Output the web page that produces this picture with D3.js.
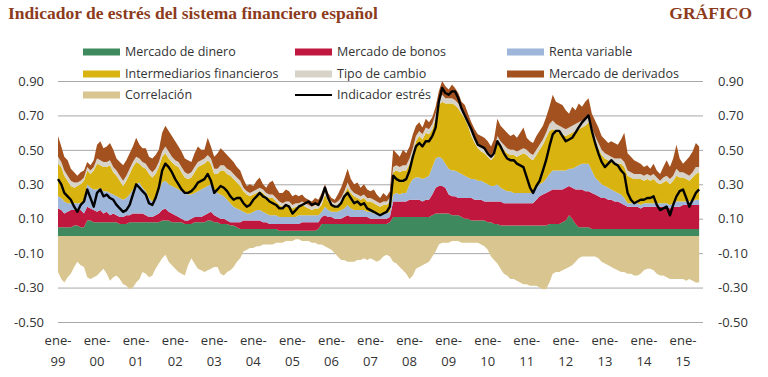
<!DOCTYPE html>
<html>
<head>
<meta charset="utf-8">
<script src="https://cdn.jsdelivr.net/npm/d3@7"></script>
<style>
  body { margin: 0; background: #fff; }
  svg text { font-family: "Open Sans", sans-serif; fill: #333; }
  svg text.title { font-family: "Liberation Serif", serif; font-weight: bold; fill: #8c3b1c; }
</style>
</head>
<body>
<svg id="chart"></svg>
<script>
// monthly values, ene-99 .. jun-15
const dinero = [
  .05,.05,.05,.05,.05,.06,.06,.05,.05,.09,.09,.08,
  .08,.08,.08,.08,.08,.08,.08,.07,.07,.07,.08,.08,
  .08,.08,.08,.08,.08,.08,.08,.08,.09,.09,.09,.08,
  .08,.08,.08,.07,.07,.07,.08,.08,.08,.08,.09,.09,
  .08,.08,.07,.07,.07,.06,.06,.05,.04,.04,.04,.04,
  .04,.04,.04,.04,.04,.04,.04,.04,.03,.03,.03,.03,
  .03,.03,.03,.03,.03,.03,.03,.03,.04,.07,.07,.07,
  .07,.07,.07,.07,.07,.07,.07,.07,.07,.07,.07,.07,
  .07,.07,.07,.07,.07,.07,.08,.11,.11,.11,.11,.11,
  .11,.11,.11,.11,.11,.11,.11,.12,.13,.13,.13,.13,
  .13,.12,.12,.12,.11,.10,.10,.09,.09,.09,.09,.09,
  .08,.08,.07,.07,.06,.06,.06,.06,.06,.06,.06,.06,
  .06,.06,.06,.06,.06,.06,.06,.07,.07,.07,.07,.08,
  .09,.12,.10,.07,.05,.05,.05,.05,.04,.04,.04,.04,
  .04,.04,.04,.04,.04,.04,.04,.04,.04,.04,.04,.04,
  .04,.04,.04,.04,.04,.04,.04,.04,.04,.04,.04,.04,
  .04,.04,.04,.04,.04,.04
];
const bonos = [
  .11,.10,.08,.09,.10,.09,.09,.10,.08,.08,.07,.07,
  .06,.07,.05,.06,.04,.05,.04,.04,.04,.05,.04,.05,
  .05,.05,.05,.04,.03,.03,.04,.05,.06,.07,.05,.05,
  .04,.03,.02,.02,.02,.03,.03,.03,.03,.04,.04,.05,
  .04,.03,.03,.03,.02,.02,.02,.03,.04,.05,.05,.05,
  .05,.05,.05,.04,.04,.03,.03,.03,.04,.04,.04,.04,
  .04,.04,.04,.05,.05,.05,.05,.05,.04,.04,.05,.04,
  .04,.03,.03,.03,.04,.05,.04,.04,.04,.04,.04,.04,
  .03,.03,.03,.03,.03,.03,.03,.09,.09,.09,.09,.09,
  .10,.10,.10,.10,.09,.10,.10,.12,.15,.16,.16,.15,
  .11,.11,.11,.10,.11,.12,.12,.13,.12,.12,.12,.11,
  .12,.12,.13,.13,.14,.13,.13,.13,.13,.13,.13,.13,
  .13,.13,.13,.15,.17,.18,.19,.19,.20,.20,.20,.19,
  .19,.17,.18,.20,.22,.22,.21,.21,.21,.20,.19,.18,
  .18,.17,.17,.16,.16,.15,.14,.13,.13,.13,.13,.12,
  .13,.13,.13,.13,.13,.13,.13,.13,.12,.13,.13,.13,
  .14,.14,.14,.14,.14,.14
];
const renta = [
  .07,.07,.07,.05,.04,.04,.04,.04,.07,.13,.12,.12,
  .13,.13,.13,.12,.13,.11,.11,.11,.10,.10,.12,.14,
  .17,.18,.15,.14,.11,.09,.10,.13,.16,.16,.16,.16,
  .16,.16,.16,.16,.15,.14,.14,.15,.16,.16,.16,.16,
  .15,.14,.14,.13,.12,.11,.09,.08,.07,.05,.04,.04,
  .05,.06,.06,.06,.05,.05,.05,.05,.04,.04,.04,.04,
  .04,.04,.05,.04,.04,.04,.04,.04,.04,.03,.05,.04,
  .03,.04,.04,.05,.05,.06,.05,.04,.04,.04,.04,.03,
  .04,.03,.03,.03,.03,.03,.03,.04,.05,.04,.05,.05,
  .09,.12,.13,.13,.13,.13,.14,.16,.17,.17,.16,.14,
  .15,.15,.15,.15,.14,.13,.12,.11,.12,.11,.11,.11,
  .10,.09,.09,.10,.08,.08,.07,.07,.06,.06,.06,.06,
  .06,.06,.06,.07,.07,.07,.08,.10,.11,.11,.11,.11,
  .10,.10,.11,.13,.14,.15,.16,.16,.13,.10,.09,.08,
  .07,.07,.06,.06,.05,.05,.04,.02,.02,.02,.02,.02,
  .02,.02,.02,.02,.02,.02,.02,.02,.02,.02,.03,.03,
  .02,.02,.02,.02,.03,.03
];
const intermediarios = [
  .19,.18,.15,.13,.10,.09,.10,.11,.12,.08,.08,.11,
  .15,.13,.14,.14,.16,.13,.12,.10,.08,.10,.12,.13,
  .13,.11,.12,.13,.14,.14,.14,.14,.15,.16,.15,.14,
  .13,.13,.11,.09,.09,.10,.12,.14,.14,.14,.15,.12,
  .09,.11,.14,.15,.15,.16,.16,.15,.14,.12,.11,.10,
  .10,.10,.11,.11,.10,.10,.10,.08,.07,.06,.07,.07,
  .05,.06,.05,.06,.05,.04,.03,.04,.04,.04,.07,.05,
  .04,.03,.04,.05,.08,.10,.09,.08,.07,.06,.07,.06,
  .06,.06,.05,.04,.05,.05,.06,.13,.13,.13,.13,.13,
  .12,.15,.21,.24,.23,.26,.24,.22,.23,.30,.33,.35,
  .38,.39,.38,.37,.35,.33,.30,.25,.21,.19,.17,.17,
  .16,.15,.17,.24,.24,.23,.22,.21,.22,.21,.22,.23,
  .22,.20,.19,.19,.20,.22,.24,.25,.24,.23,.22,.21,
  .20,.20,.21,.21,.21,.21,.22,.24,.22,.21,.19,.17,
  .16,.16,.16,.16,.17,.18,.18,.16,.15,.14,.14,.15,
  .13,.14,.13,.14,.12,.11,.12,.13,.12,.13,.15,.14,
  .14,.13,.12,.14,.15,.16
];
const cambio = [
  .04,.03,.03,.03,.03,.03,.02,.02,.02,.02,.02,.02,
  .03,.03,.03,.03,.03,.03,.03,.03,.03,.03,.03,.03,
  .03,.03,.03,.03,.03,.03,.03,.03,.03,.04,.04,.03,
  .03,.03,.03,.03,.03,.03,.03,.03,.03,.03,.03,.03,
  .03,.03,.03,.03,.03,.03,.03,.03,.03,.02,.02,.02,
  .02,.02,.02,.02,.02,.02,.02,.02,.02,.02,.02,.02,
  .02,.02,.02,.02,.02,.02,.02,.02,.02,.02,.02,.02,
  .02,.02,.02,.02,.02,.03,.02,.02,.02,.02,.02,.02,
  .02,.02,.02,.02,.02,.02,.02,.03,.03,.03,.03,.03,
  .03,.03,.03,.03,.03,.03,.03,.03,.03,.03,.04,.03,
  .03,.03,.03,.03,.03,.03,.03,.03,.03,.03,.03,.03,
  .03,.03,.03,.04,.03,.03,.03,.03,.03,.03,.03,.03,
  .03,.03,.03,.03,.03,.03,.03,.04,.05,.04,.04,.04,
  .04,.04,.04,.04,.04,.04,.04,.04,.03,.03,.03,.03,
  .03,.03,.03,.03,.03,.03,.03,.03,.03,.03,.03,.03,
  .03,.03,.03,.03,.03,.02,.03,.03,.03,.03,.04,.03,
  .03,.03,.03,.03,.04,.03
];
const derivados = [
  .12,.09,.08,.09,.07,.06,.04,.05,.04,.03,.03,.04,
  .08,.11,.08,.09,.10,.10,.07,.08,.09,.09,.09,.09,
  .11,.08,.08,.09,.07,.08,.08,.07,.11,.12,.12,.12,
  .11,.09,.09,.08,.08,.06,.08,.09,.06,.05,.10,.07,
  .07,.09,.10,.08,.08,.07,.07,.06,.06,.05,.03,.05,
  .03,.05,.06,.03,.03,.07,.08,.06,.05,.06,.07,.06,
  .05,.05,.04,.04,.03,.03,.03,.04,.03,.05,.04,.03,
  .02,.02,.04,.06,.07,.08,.06,.05,.07,.05,.06,.05,
  .04,.06,.04,.03,.05,.03,.04,.10,.07,.06,.09,.07,
  .07,.08,.06,.05,.04,.05,.04,.04,.04,.05,.08,.07,
  .05,.08,.07,.06,.04,.05,.04,.05,.05,.05,.06,.06,
  .06,.05,.07,.10,.09,.09,.09,.08,.09,.08,.10,.12,
  .07,.07,.07,.08,.08,.08,.09,.10,.15,.13,.13,.13,
  .11,.08,.11,.08,.11,.08,.10,.10,.08,.09,.09,.08,
  .08,.07,.09,.09,.08,.11,.17,.10,.09,.08,.07,.06,
  .05,.05,.04,.06,.04,.04,.06,.09,.07,.10,.14,.08,
  .05,.08,.11,.12,.14,.12
];
const correlacion = [
  -.21,-.25,-.27,-.24,-.22,-.18,-.15,-.17,-.18,-.24,-.25,-.24,
  -.23,-.21,-.19,-.22,-.26,-.24,-.23,-.25,-.28,-.29,-.31,-.30,
  -.27,-.25,-.21,-.22,-.24,-.23,-.19,-.16,-.13,-.11,-.15,-.17,
  -.19,-.21,-.22,-.23,-.17,-.13,-.16,-.19,-.20,-.21,-.20,-.19,
  -.18,-.18,-.22,-.23,-.21,-.20,-.18,-.15,-.13,-.09,-.08,-.07,
  -.07,-.06,-.06,-.05,-.05,-.05,-.05,-.04,-.04,-.04,-.03,-.03,
  -.03,-.02,-.02,-.03,-.03,-.03,-.04,-.04,-.05,-.05,-.06,-.07,
  -.08,-.10,-.12,-.14,-.14,-.15,-.15,-.15,-.14,-.14,-.13,-.14,
  -.13,-.14,-.15,-.14,-.12,-.11,-.12,-.15,-.16,-.18,-.20,-.22,
  -.25,-.23,-.19,-.18,-.17,-.16,-.15,-.12,-.09,-.05,-.04,-.04,
  -.04,-.03,-.03,-.03,-.04,-.04,-.04,-.04,-.04,-.04,-.05,-.06,
  -.08,-.12,-.14,-.16,-.19,-.22,-.23,-.25,-.25,-.26,-.27,-.28,
  -.28,-.29,-.29,-.29,-.30,-.31,-.31,-.27,-.22,-.21,-.21,-.20,
  -.19,-.18,-.17,-.15,-.13,-.12,-.12,-.12,-.12,-.12,-.13,-.15,
  -.16,-.17,-.18,-.19,-.20,-.21,-.21,-.22,-.22,-.23,-.23,-.22,
  -.20,-.19,-.19,-.20,-.22,-.23,-.23,-.24,-.25,-.25,-.25,-.25,
  -.25,-.26,-.25,-.26,-.27,-.27
];
const indicador = [
  .33,.30,.25,.23,.21,.17,.14,.18,.20,.27,.22,.17,
  .25,.27,.23,.24,.22,.21,.18,.16,.14,.15,.18,.24,
  .30,.28,.26,.24,.19,.18,.22,.28,.38,.42,.40,.37,
  .33,.30,.27,.25,.25,.26,.28,.31,.32,.33,.36,.32,
  .25,.27,.29,.28,.26,.23,.21,.22,.22,.19,.17,.18,
  .21,.23,.25,.23,.22,.20,.19,.18,.16,.16,.18,.17,
  .13,.15,.17,.18,.19,.20,.18,.19,.18,.22,.28,.22,
  .18,.17,.17,.19,.23,.25,.22,.19,.20,.18,.19,.16,
  .15,.14,.13,.12,.13,.14,.17,.35,.33,.32,.32,.33,
  .38,.46,.52,.54,.52,.55,.55,.58,.63,.78,.86,.83,
  .82,.84,.84,.80,.74,.70,.66,.62,.57,.53,.52,.51,
  .48,.46,.48,.55,.52,.48,.45,.44,.44,.42,.41,.40,
  .34,.28,.25,.29,.32,.38,.44,.52,.59,.61,.61,.58,
  .55,.56,.57,.60,.63,.66,.68,.70,.61,.54,.48,.43,
  .40,.42,.44,.42,.41,.38,.36,.25,.21,.19,.20,.21,
  .21,.22,.22,.23,.18,.15,.16,.17,.12,.18,.23,.26,
  .27,.22,.17,.21,.25,.27
];

const yTicks = [0.9, 0.7, 0.5, 0.3, 0.1, -0.1, -0.3, -0.5];
const years = d3.range(1999, 2016);

const layers = [
  { key: "dinero", name: "Mercado de dinero", values: dinero, color: "#3e8a5e" },
  { key: "bonos", name: "Mercado de bonos", values: bonos, color: "#c0173e" },
  { key: "renta", name: "Renta variable", values: renta, color: "#9db6da" },
  { key: "intermediarios", name: "Intermediarios financieros", values: intermediarios, color: "#d9b30f" },
  { key: "cambio", name: "Tipo de cambio", values: cambio, color: "#d7d3c8" },
  { key: "derivados", name: "Mercado de derivados", values: derivados, color: "#a3521f" }
];
const corColor = "#d9c58f";

const width = 768, height = 377;
const svg = d3.select("#chart").attr("width", width).attr("height", height);

const x = d3.scaleTime()
  .domain([new Date(1999, 0, 1), new Date(2015, 0, 1)])
  .range([58, 683]);
const y = d3.scaleLinear().domain([-0.5, 0.9]).range([322, 81]);
const plotLeft = 58, plotRight = 703;

const months = dinero.map((d, i) => new Date(1999, i, 1));
const rows = months.map((date, i) => {
  const r = { date };
  layers.forEach(l => { r[l.key] = l.values[i]; });
  return r;
});

// gridlines
svg.append("g")
  .attr("transform", `translate(${plotLeft},0)`)
  .call(d3.axisLeft(y).tickValues(yTicks).tickSize(-(plotRight - plotLeft)).tickFormat(""))
  .call(g => g.select(".domain").remove())
  .call(g => g.selectAll("line").attr("stroke", "#a8a8a8").attr("stroke-width", 1));

// stacked components
const stacked = d3.stack().keys(layers.map(l => l.key))(rows);
const area = d3.area()
  .x(d => x(d.data.date))
  .y0(d => y(d[0]))
  .y1(d => y(d[1]));

svg.append("g").selectAll("path")
  .data(stacked)
  .join("path")
  .attr("d", area)
  .attr("fill", (d, i) => layers[i].color);

// correlation (negative)
svg.append("path")
  .datum(correlacion)
  .attr("fill", corColor)
  .attr("d", d3.area()
    .x((d, i) => x(months[i]))
    .y0(y(0))
    .y1(d => y(d)));

// stress indicator line
svg.append("path")
  .datum(indicador)
  .attr("fill", "none")
  .attr("stroke", "#000")
  .attr("stroke-width", 2.4)
  .attr("stroke-linejoin", "round")
  .attr("d", d3.line().x((d, i) => x(months[i])).y(d => y(d)));

// y axes (labels only)
const fmt = d => d.toFixed(2);
svg.append("g")
  .attr("transform", `translate(${plotLeft},0)`)
  .call(d3.axisLeft(y).tickValues(yTicks).tickSize(0).tickPadding(14).tickFormat(fmt))
  .call(g => g.select(".domain").remove())
  .call(g => g.selectAll("text").attr("font-size", 13));

svg.append("g")
  .attr("transform", `translate(${plotRight},0)`)
  .call(d3.axisRight(y).tickValues(yTicks).tickSize(0).tickPadding(15).tickFormat(fmt))
  .call(g => g.select(".domain").remove())
  .call(g => g.selectAll("text").attr("font-size", 13));

// x labels: "ene-" over 2-digit year
const xl = svg.append("g").attr("font-size", 13).attr("text-anchor", "middle");
years.forEach(yr => {
  const cx = x(new Date(yr, 0, 1));
  xl.append("text").attr("x", cx).attr("y", 345).text("ene-");
  xl.append("text").attr("x", cx).attr("y", 366).text(String(yr % 100).padStart(2, "0"));
});

// legend
const legendItems = [
  { name: "Mercado de dinero", color: layers[0].color, col: 0, row: 0 },
  { name: "Mercado de bonos", color: layers[1].color, col: 1, row: 0 },
  { name: "Renta variable", color: layers[2].color, col: 2, row: 0 },
  { name: "Intermediarios financieros", color: layers[3].color, col: 0, row: 1 },
  { name: "Tipo de cambio", color: layers[4].color, col: 1, row: 1 },
  { name: "Mercado de derivados", color: layers[5].color, col: 2, row: 1 },
  { name: "Correlación", color: corColor, col: 0, row: 2 },
  { name: "Indicador estrés", color: "#000", col: 1, row: 2, line: true }
];
const colX = [83, 295, 507];
const rowY = [52, 74, 95];
const lg = svg.append("g");
legendItems.forEach(it => {
  const lx = colX[it.col], ly = rowY[it.row];
  if (it.line) {
    lg.append("line").attr("x1", lx).attr("x2", lx + 37).attr("y1", ly).attr("y2", ly)
      .attr("stroke", it.color).attr("stroke-width", 2);
  } else {
    lg.append("rect").attr("x", lx).attr("y", ly - 3.5).attr("width", 37).attr("height", 7)
      .attr("fill", it.color);
  }
  lg.append("text").attr("x", lx + 42).attr("y", ly).attr("dy", "0.35em")
    .attr("font-size", 12.5).text(it.name);
});

// title
svg.append("text").attr("class", "title").attr("x", 8).attr("y", 19)
  .attr("font-size", 17.5)
  .text("Indicador de estrés del sistema financiero español");
svg.append("text").attr("class", "title").attr("x", 752).attr("y", 19)
  .attr("text-anchor", "end").attr("font-size", 17.5)
  .text("GRÁFICO");
</script>
</body>
</html>
